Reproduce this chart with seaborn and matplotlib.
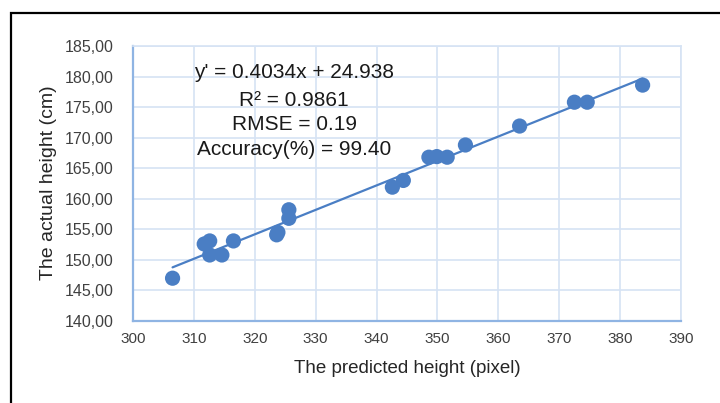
import matplotlib
matplotlib.use("Agg")
import matplotlib.pyplot as plt
import seaborn as sns
import pandas as pd
import numpy as np
from matplotlib.patches import Rectangle
from matplotlib.ticker import FuncFormatter, MultipleLocator

predicted = [306.5, 311.7, 312.6, 312.6, 314.6, 316.5, 323.6, 323.8, 325.6, 325.6,
             342.6, 344.4, 348.6, 349.9, 351.6, 354.6, 363.5, 372.5, 374.6, 383.7]
actual = [147.0, 152.6, 153.1, 150.8, 150.8, 153.1, 154.1, 154.5, 158.2, 156.8,
          161.9, 163.0, 166.8, 166.9, 166.8, 168.8, 171.9, 175.8, 175.8, 178.6]
annot_lines = ["y' = 0.4034x + 24.938", "R\u00b2 = 0.9861", "RMSE = 0.19", "Accuracy(%) = 99.40"]

df = pd.DataFrame({"pred": predicted, "act": actual})

sns.set_theme(style="white")
plt.rcParams["font.family"] = ["Liberation Sans", "DejaVu Sans"]

fig = plt.figure(figsize=(7.2, 4.03), dpi=100)
ax = fig.add_axes([0.1847, 0.2035, 0.7611, 0.6824])

blue = "#4a7ec4"
sns.regplot(data=df, x="pred", y="act", ax=ax, ci=None, truncate=True,
            scatter_kws=dict(s=120, color=blue, edgecolor="none", alpha=1, zorder=3),
            line_kws=dict(color=blue, lw=1.6, zorder=2))

ax.set_xlim(300, 390)
ax.set_ylim(140, 185)
ax.xaxis.set_major_locator(MultipleLocator(10))
ax.yaxis.set_major_locator(MultipleLocator(5))
ax.yaxis.set_major_formatter(FuncFormatter(lambda v, p: f"{v:.2f}".replace(".", ",")))
ax.grid(True, color="#d6e3f4", lw=1.2)
ax.set_axisbelow(True)
for s in ["top", "right"]:
    ax.spines[s].set_color("#d6e3f4")
    ax.spines[s].set_linewidth(1.2)
for s in ["left", "bottom"]:
    ax.spines[s].set_color("#8fb4e3")
    ax.spines[s].set_linewidth(1.6)
ax.tick_params(axis="x", length=0, labelsize=11, labelcolor="#404040", pad=8)
ax.tick_params(axis="y", length=0, labelsize=11.5, labelcolor="#404040", pad=14)
ax.set_xlabel("The predicted height (pixel)", fontsize=13.5, color="#262626")
ax.set_ylabel("The actual height (cm)", fontsize=14, color="#262626")
ax.xaxis.set_label_coords(0.5, -0.171)
ax.yaxis.set_label_coords(-0.155, 0.502)
ax.xaxis.label.set_va("center")
ax.yaxis.label.set_va("center")

ys = [73, 100, 125, 149]
for t, yp in zip(annot_lines, ys):
    fig.text(294 / 720, 1 - yp / 403, t, ha="center", va="center", fontsize=15, color="#1a1a1a")

fig.patches.append(Rectangle((11 / 720, -0.1), 1.2, 1 - 13 / 403 + 0.1, transform=fig.transFigure,
                             fill=False, edgecolor="black", lw=1.6))

fig.savefig("out.png", dpi=100)
